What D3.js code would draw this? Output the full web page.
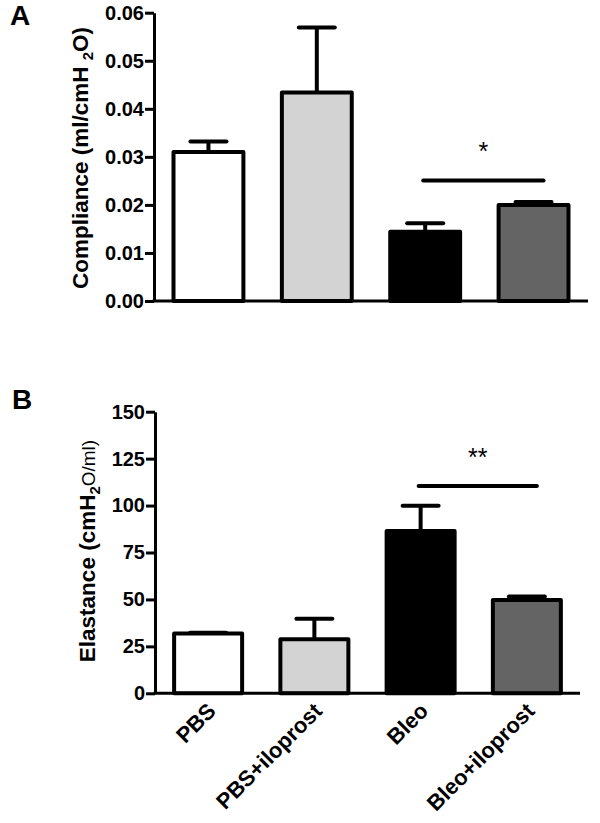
<!DOCTYPE html>
<html><head><meta charset="utf-8">
<script src="https://cdn.jsdelivr.net/npm/d3@7"></script>
<style>
body{margin:0;background:#fff;}
svg{display:block;font-family:"Liberation Sans",Arial,sans-serif;}
</style></head>
<body><svg id="c" width="600" height="823"></svg>
<script>
const categories = ["PBS","PBS+iloprost","Bleo","Bleo+iloprost"];
const fills = ["#ffffff","#d3d3d3","#000000","#646464"];
const complianceMean = [0.0310, 0.0434, 0.0144, 0.0200];
const complianceErr  = [0.0022, 0.0135, 0.0018, 0.0006];
const complianceTicks = [0,0.01,0.02,0.03,0.04,0.05,0.06];
const complianceSig = {from:2, to:3, value:0.0251, label:"*"};
const elastanceMean = [31.8, 28.8, 86.5, 49.7];
const elastanceErr  = [0.4, 10.9, 13.4, 1.8];
const elastanceTicks = [0,25,50,75,100,125,150];
const elastanceSig = {from:2, to:3, value:110.4, label:"**"};

const svg = d3.select("#c");

function panel(opt){
  const g = svg.append("g");
  const x = d3.scaleBand().domain(categories).range([opt.x0, opt.x1]).paddingInner(opt.pi).paddingOuter(opt.po);
  const y = d3.scaleLinear().domain([0, opt.max]).range([opt.y0, opt.y1]);
  const bw = x.bandwidth();
  // error bars
  categories.forEach((c,i)=>{
    const cx = x(c)+bw/2;
    g.append("line").attr("x1",cx).attr("x2",cx).attr("y1",y(opt.mean[i])).attr("y2",y(opt.mean[i]+opt.err[i]))
      .attr("stroke","#000").attr("stroke-width",4);
    g.append("line").attr("x1",cx-18).attr("x2",cx+18).attr("y1",y(opt.mean[i]+opt.err[i])).attr("y2",y(opt.mean[i]+opt.err[i]))
      .attr("stroke","#000").attr("stroke-width",4).attr("stroke-linecap","round");
  });
  // bars
  g.selectAll("rect.bar").data(categories).enter().append("rect").attr("class","bar")
    .attr("x",d=>x(d)).attr("width",bw)
    .attr("y",(d,i)=>y(opt.mean[i])).attr("height",(d,i)=>y(0)-y(opt.mean[i]))
    .attr("fill",(d,i)=>fills[i]).attr("stroke","#000").attr("stroke-width",4).attr("stroke-linejoin","round");
  // y axis
  const ax = g.append("g").attr("transform",`translate(${opt.x0},0)`)
    .call(d3.axisLeft(y).tickValues(opt.ticks).tickFormat(opt.fmt).tickSize(9).tickSizeOuter(0).tickPadding(1));
  ax.select(".domain").attr("stroke-width",3);
  ax.selectAll(".tick line").attr("stroke-width",3);
  ax.selectAll(".tick text").attr("font-size",20).attr("font-weight","bold").attr("fill","#000")
    .attr("font-family","Liberation Sans, Arial, sans-serif");
  // x axis line
  g.append("line").attr("x1",opt.x0-1.5).attr("x2",opt.xEnd).attr("y1",y(0)).attr("y2",y(0))
    .attr("stroke","#000").attr("stroke-width",3);
  // significance
  const s = opt.sig;
  const sx1 = x(categories[s.from])+bw/2-2, sx2 = x(categories[s.to])+bw/2+10;
  g.append("line").attr("x1",sx1).attr("x2",sx2).attr("y1",y(s.value)).attr("y2",y(s.value))
    .attr("stroke","#000").attr("stroke-width",4).attr("stroke-linecap","round");
  g.append("text").attr("x",(sx1+sx2)/2).attr("y",y(s.value)-20).attr("text-anchor","middle")
    .attr("font-size",25).text(s.label);
  return {x,y,g};
}

const A = panel({x0:154, x1:588, xEnd:588, pi:0.355, po:0.18, y0:301, y1:12.7, max:0.06,
  mean:complianceMean, err:complianceErr, ticks:complianceTicks, fmt:d3.format(".2f"), sig:complianceSig});
const B = panel({x0:155, x1:580, xEnd:580, pi:0.36, po:0.18, y0:693.3, y1:411.7, max:150,
  mean:elastanceMean, err:elastanceErr, ticks:elastanceTicks, fmt:d3.format("d"), sig:elastanceSig});

// panel letters
svg.append("text").attr("x",10).attr("y",25).attr("font-size",28).attr("font-weight","bold").text("A");
svg.append("text").attr("x",12).attr("y",409).attr("font-size",28).attr("font-weight","bold").text("B");

// y labels
const la = svg.append("text").attr("transform","translate(88,158) rotate(-90)").attr("text-anchor","middle")
  .attr("font-size",22.5).attr("font-weight","bold");
la.append("tspan").text("Compliance (ml/cmH ");
la.append("tspan").attr("font-size",15).attr("dy",5).text("2");
la.append("tspan").attr("dy",-5).text("O)");

const lb = svg.append("text").attr("transform","translate(95,551) rotate(-90)").attr("text-anchor","middle")
  .attr("font-size",22.5).attr("font-weight","bold");
lb.append("tspan").text("Elastance (cmH");
lb.append("tspan").attr("font-size",15).attr("dy",5).text("2");
lb.append("tspan").attr("dy",-5).attr("font-weight","normal").attr("font-size",19).text("O/ml)");

// x labels (bottom panel)
categories.forEach(c=>{
  const cx = B.x(c)+B.x.bandwidth()/2;
  svg.append("text").attr("transform",`translate(${cx+9},${B.y(0)+19}) rotate(-45)`)
    .attr("text-anchor","end").attr("font-size",22).attr("font-weight","bold").text(c);
});
</script></body></html>
